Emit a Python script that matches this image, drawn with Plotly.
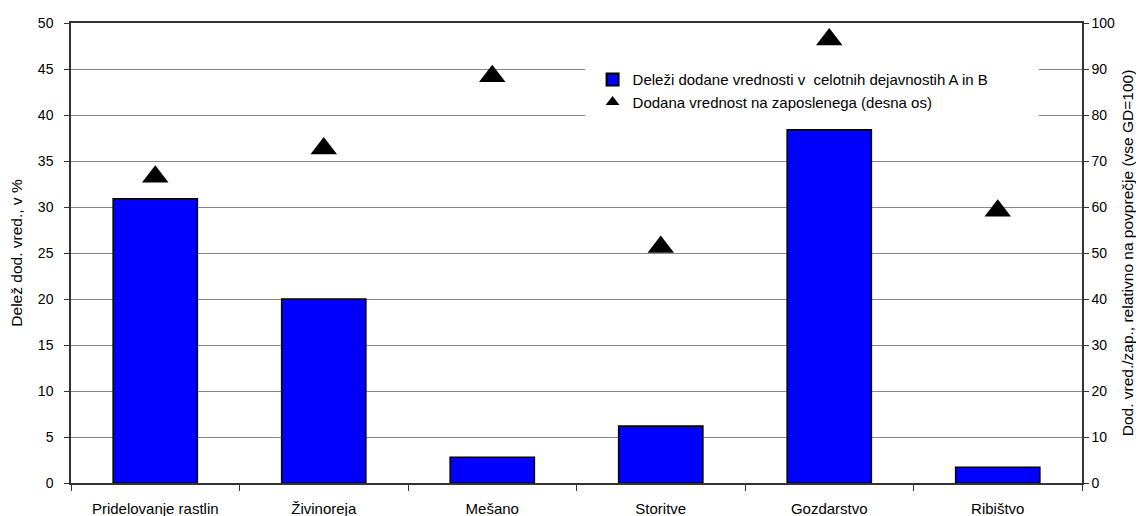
import plotly.graph_objects as go

categories = ["Pridelovanje rastlin", "Živinoreja", "Mešano", "Storitve", "Gozdarstvo", "Ribištvo"]
share_values = [30.9, 20.0, 2.8, 6.2, 38.4, 1.7]
per_employee_values = [66.6, 72.7, 88.4, 51.3, 96.4, 59.2]

bar_name = "Deleži dodane vrednosti v  celotnih dejavnostih A in B"
tri_name = "Dodana vrednost na zaposlenega (desna os)"

FONT = "Liberation Sans, Arial, sans-serif"
PAD = "\u00a0" * 9  # widens the white legend box like the reference

fig = go.Figure()
fig.add_trace(go.Bar(
    x=categories, y=share_values, name=bar_name + PAD,
    marker=dict(color="#0000FF", line=dict(color="black", width=1.5)),
))
fig.add_trace(go.Scatter(
    x=categories, y=per_employee_values, name=tri_name, yaxis="y2",
    mode="markers",
    marker=dict(symbol="triangle-up", size=23, color="black"),
))

fig.update_layout(
    width=1136, height=508,
    margin=dict(l=63, r=62, t=15, b=33),
    paper_bgcolor="white", plot_bgcolor="white",
    font=dict(family=FONT, size=14, color="black"),
    bargap=0.5,
    showlegend=True,
    legend=dict(
        x=0.508, y=0.93, xanchor="left", yanchor="top",
        bgcolor="white", bordercolor="white", borderwidth=8,
        font=dict(family=FONT, size=15, color="black"),
        tracegroupgap=0, itemsizing="constant",
    ),
    xaxis=dict(
        showline=True, linecolor="#333", linewidth=1.5, mirror=True,
        ticks="outside", tickson="boundaries", ticklen=6, tickcolor="#333",
        showgrid=False, tickfont=dict(size=15), automargin=False,
        ticklabelstandoff=11,
    ),
    yaxis=dict(
        range=[0, 50], dtick=5, showline=True, linecolor="#333", linewidth=1.5,
        ticks="outside", ticklen=5, tickcolor="#333",
        showgrid=True, gridcolor="#888", gridwidth=1, zeroline=False,
        title=dict(text="Delež dod. vred., v %", font=dict(size=15.5), standoff=14),
        tickfont=dict(size=14), automargin=False, ticklabelstandoff=8,
    ),
    yaxis2=dict(
        range=[0, 100], dtick=10, overlaying="y", side="right",
        showline=True, linecolor="#333", linewidth=1.5,
        ticks="outside", ticklen=5, tickcolor="#333",
        showgrid=False, zeroline=False,
        title=dict(text="Dod. vred./zap., relativno na povprečje (vse GD=100)", font=dict(size=15.5), standoff=8),
        tickfont=dict(size=14), automargin=False,
    ),
)

fig.write_html("out.html")
